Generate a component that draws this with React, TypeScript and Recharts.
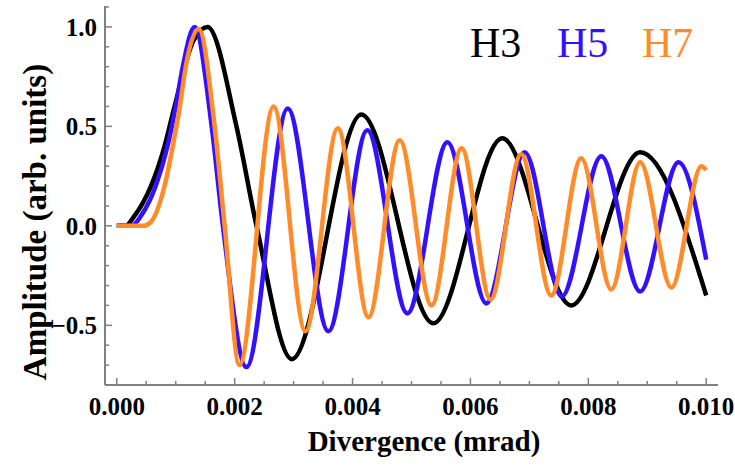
import React from "react";
import { LineChart, Line, XAxis, YAxis } from "recharts";

// x in mrad (extrema + a few points on the first rise)
const h3X = [0, 0.00015, 0.0003, 0.00058, 0.00081, 0.00098, 0.0013, 0.00154, 0.00203, 0.00237, 0.00297, 0.00415, 0.00537, 0.00654, 0.00771, 0.00888, 0.01];
const h3Y = [0, 0.0, 0.05, 0.2, 0.4, 0.6, 0.93, 1.0, 0.5, 0.0, -0.67, 0.56, -0.49, 0.44, -0.4, 0.37, -0.35];

const h5X = [0, 0.00025, 0.00041, 0.00066, 0.00086, 0.001, 0.00112, 0.00132, 0.00161, 0.0018, 0.0022, 0.0029, 0.00359, 0.00425, 0.00493, 0.00561, 0.00627, 0.00692, 0.00755, 0.00822, 0.00888, 0.00953, 0.01];
const h5Y = [0, 0.0, 0.05, 0.2, 0.4, 0.6, 0.8, 1.0, 0.5, 0.0, -0.71, 0.59, -0.53, 0.48, -0.44, 0.42, -0.39, 0.37, -0.355, 0.35, -0.33, 0.32, -0.17];

const h7X = [0, 0.00045, 0.00058, 0.00081, 0.00095, 0.00107, 0.00117, 0.00139, 0.00166, 0.00183, 0.00208, 0.00266, 0.0032, 0.00375, 0.00427, 0.0048, 0.00534, 0.00585, 0.00634, 0.00686, 0.00737, 0.00788, 0.00839, 0.00888, 0.00941, 0.00992, 0.01];
const h7Y = [0, 0.0, 0.02, 0.2, 0.4, 0.6, 0.8, 0.99, 0.5, 0.0, -0.7, 0.6, -0.53, 0.49, -0.46, 0.43, -0.4, 0.39, -0.37, 0.36, -0.35, 0.34, -0.32, 0.32, -0.31, 0.3, 0.28];

const xMajor = [0, 0.002, 0.004, 0.006, 0.008, 0.01];
const xLabels = ["0.000", "0.002", "0.004", "0.006", "0.008", "0.010"];
const yMajor = [-0.5, 0, 0.5, 1.0];
const yLabels = ["\u22120.5", "0.0", "0.5", "1.0"];

const seriesNames = ["H3", "H5", "H7"];
const seriesColors = ["#000000", "#3311ff", "#ff8c28"];

const h3 = h3X.map((x, i) => ({ x, y: h3Y[i] }));
const h5 = h5X.map((x, i) => ({ x, y: h5Y[i] }));
const h7 = h7X.map((x, i) => ({ x, y: h7Y[i] }));

const xMinor = Array.from({ length: 21 }, (_, i) => +(i * 0.0005).toFixed(4));
const yMinor = Array.from({ length: 20 }, (_, i) => +(-0.8 + i * 0.1).toFixed(1));

const FRAME = "#808080";
const FONT = "'Liberation Serif', serif";

const majorIdx = (list: number[], v: number) =>
  list.findIndex((m) => Math.abs(m - v) < 1e-9);

const makeXTick = (side: "bottom" | "top") => (props: any) => {
  const { x, y, payload } = props;
  const idx = majorIdx(xMajor, payload.value);
  const len = idx >= 0 ? 7 : 4;
  const dir = side === "bottom" ? -1 : 1;
  return (
    <g>
      <line x1={x} x2={x} y1={y} y2={y + dir * len} stroke={FRAME} strokeWidth={1.5} />
      {side === "bottom" && idx >= 0 && (
        <text x={x} y={y + 30} textAnchor="middle" style={{ fontFamily: FONT, fontWeight: 700, fontSize: 25 }} fill="#000">
          {xLabels[idx]}
        </text>
      )}
    </g>
  );
};

const makeYTick = (side: "left" | "right") => (props: any) => {
  const { x, y, payload } = props;
  const idx = majorIdx(yMajor, payload.value);
  const len = idx >= 0 ? 7 : 4;
  const dir = side === "left" ? 1 : -1;
  return (
    <g>
      <line x1={x} x2={x + dir * len} y1={y} y2={y} stroke={FRAME} strokeWidth={1.5} />
      {side === "left" && idx >= 0 && (
        <text x={x - 8} y={y} dy="0.35em" textAnchor="end" style={{ fontFamily: FONT, fontWeight: 700, fontSize: 25 }} fill="#000">
          {yLabels[idx]}
        </text>
      )}
    </g>
  );
};

const legendX = [470, 557, 642];

const abs = (extra: React.CSSProperties): React.CSSProperties => ({
  position: "absolute",
  fontFamily: FONT,
  lineHeight: 1,
  whiteSpace: "nowrap",
  ...extra,
});

export default function App() {
  const axisLine = { stroke: FRAME, strokeWidth: 2 };
  return (
    <div style={{ position: "absolute", left: 0, top: 0, width: 735, height: 466 }}>
      <LineChart width={735} height={466} data={h3} margin={{ top: 6, right: 17, left: 0, bottom: 0 }}>
        <XAxis xAxisId="b" type="number" dataKey="x" domain={[-0.0002, 0.0102]} ticks={xMinor} interval={0}
          height={81} tickSize={0} tickMargin={0} tickLine={false} axisLine={axisLine} tick={makeXTick("bottom")} allowDataOverflow />
        <XAxis xAxisId="t" orientation="top" type="number" dataKey="x" domain={[-0.0002, 0.0102]} ticks={xMinor} interval={0}
          height={0} tickSize={0} tickMargin={0} tickLine={false} axisLine={axisLine} tick={makeXTick("top")} allowDataOverflow />
        <YAxis yAxisId="l" type="number" domain={[-0.8, 1.105]} ticks={yMinor} interval={0}
          width={105} tickSize={0} tickMargin={0} tickLine={false} axisLine={axisLine} tick={makeYTick("left")} allowDataOverflow />
        <YAxis yAxisId="r" orientation="right" type="number" domain={[-0.8, 1.105]} ticks={yMinor} interval={0}
          width={0} tickSize={0} tickMargin={0} tickLine={false} axisLine={axisLine} tick={makeYTick("right")} allowDataOverflow />
        <Line xAxisId="b" yAxisId="l" data={h3} dataKey="y" type="monotone" stroke={seriesColors[0]} strokeWidth={4.5} dot={false} isAnimationActive={false} />
        <Line xAxisId="b" yAxisId="l" data={h5} dataKey="y" type="monotone" stroke={seriesColors[1]} strokeWidth={4.5} dot={false} isAnimationActive={false} />
        <Line xAxisId="b" yAxisId="l" data={h7} dataKey="y" type="monotone" stroke={seriesColors[2]} strokeWidth={4.5} dot={false} isAnimationActive={false} />
      </LineChart>
      {seriesNames.map((n, i) => (
        <div key={n} style={abs({ left: legendX[i], top: 22, fontSize: 42, color: seriesColors[i] })}>
          {n}
        </div>
      ))}
      <div style={abs({ left: 224, width: 400, top: 427, textAlign: "center", fontSize: 29, fontWeight: 700 })}>
        Divergence (mrad)
      </div>
      <div
        style={abs({
          left: 36 - 200,
          top: 222 - 17,
          width: 400,
          textAlign: "center",
          fontSize: 33,
          fontWeight: 700,
          transform: "rotate(-90deg)",
          transformOrigin: "200px 17px",
        })}
      >
        Amplitude (arb. units)
      </div>
    </div>
  );
}
